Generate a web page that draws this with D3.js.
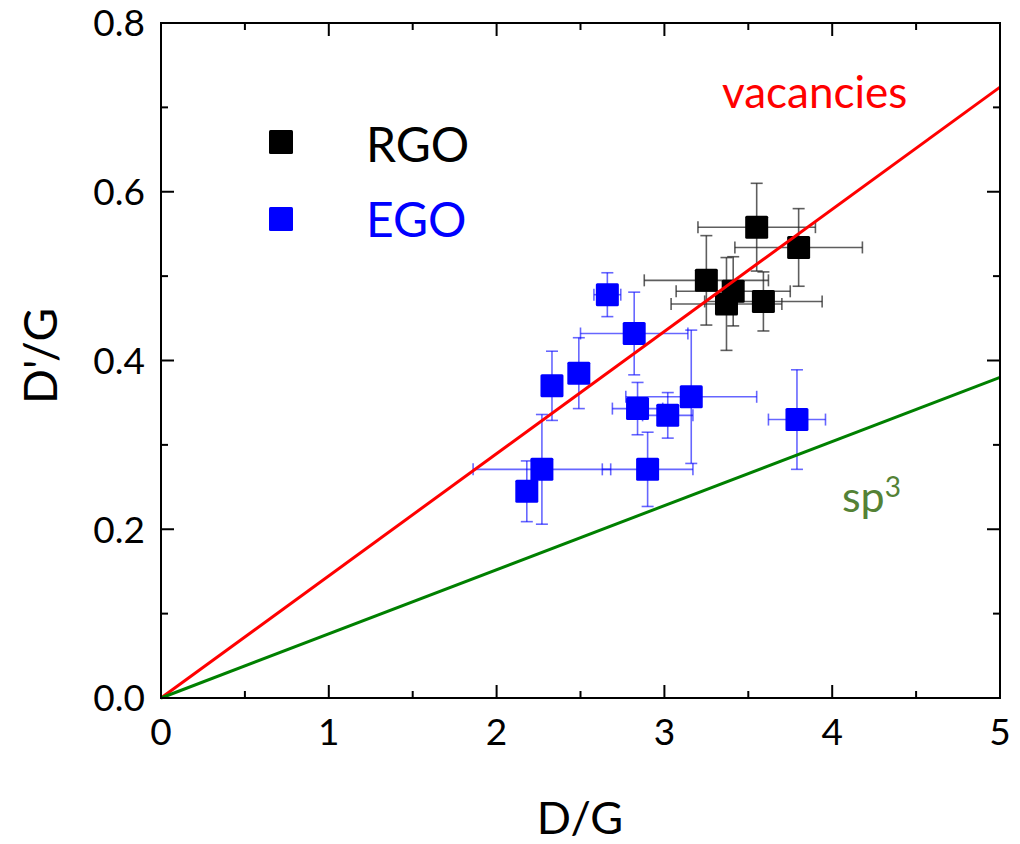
<!DOCTYPE html>
<html>
<head>
<meta charset="utf-8">
<script src="https://cdn.jsdelivr.net/npm/d3@7"></script>
<style>
  body { margin: 0; background: #fff; }
  svg { display: block; }
  text { font-family: Lato, "Open Sans", sans-serif; }
</style>
</head>
<body>
<svg id="chart" width="1020" height="844"></svg>
<script>
// ---- data ----
const xTicks = [0, 1, 2, 3, 4, 5];
const yTicks = [0.0, 0.2, 0.4, 0.6, 0.8];
const xMinor = [0.5, 1.5, 2.5, 3.5, 4.5];
const yMinor = [0.1, 0.3, 0.5, 0.7];

const rgoX    = [3.55, 3.80, 3.25, 3.41, 3.37, 3.59];
const rgoY    = [0.558, 0.534, 0.495, 0.482, 0.467, 0.470];
const rgoXErr = [0.35, 0.38, 0.37, 0.34, 0.33, 0.35];
const rgoYErr = [0.052, 0.046, 0.053, 0.041, 0.055, 0.035];

const egoX    = [2.66, 2.82, 2.33, 2.49, 2.84, 3.02, 3.16, 2.27, 2.18, 2.90, 3.79];
const egoY    = [0.478, 0.432, 0.370, 0.385, 0.343, 0.335, 0.357, 0.271, 0.245, 0.271, 0.330];
const egoXErr = [0.08, 0.32, 0.03, 0.03, 0.15, 0.15, 0.39, 0.41, 0.03, 0.27, 0.17];
const egoYErr = [0.026, 0.049, 0.041, 0.042, 0.031, 0.027, 0.079, 0.065, 0.036, 0.044, 0.059];

// reference lines: D'/G = slope * D/G
const vacancyLine = [[0, 0], [5, 0.724]];
const sp3Line     = [[0, 0], [5, 0.380]];

// ---- layout ----
const svg = d3.select("#chart");
const L = 161, R = 1000, T = 23, B = 698;
const x = d3.scaleLinear().domain([0, 5]).range([L, R]);
const y = d3.scaleLinear().domain([0, 0.8]).range([B, T]);

const majorLen = 13, minorLen = 7;

// error bars + points
function drawSeries(xs, ys, xe, ye, fill, errColor) {
  const g = svg.append("g");
  const data = xs.map((v, i) => ({x: v, y: ys[i], xe: xe[i], ye: ye[i]}));
  const cap = 6;
  data.forEach(d => {
    const eg = g.append("g").attr("stroke", errColor).attr("stroke-width", 1.6).attr("fill", "none");
    eg.append("line").attr("x1", x(d.x - d.xe)).attr("x2", x(d.x + d.xe)).attr("y1", y(d.y)).attr("y2", y(d.y));
    eg.append("line").attr("x1", x(d.x - d.xe)).attr("x2", x(d.x - d.xe)).attr("y1", y(d.y) - cap).attr("y2", y(d.y) + cap);
    eg.append("line").attr("x1", x(d.x + d.xe)).attr("x2", x(d.x + d.xe)).attr("y1", y(d.y) - cap).attr("y2", y(d.y) + cap);
    eg.append("line").attr("x1", x(d.x)).attr("x2", x(d.x)).attr("y1", y(d.y - d.ye)).attr("y2", y(d.y + d.ye));
    eg.append("line").attr("x1", x(d.x) - cap).attr("x2", x(d.x) + cap).attr("y1", y(d.y - d.ye)).attr("y2", y(d.y - d.ye));
    eg.append("line").attr("x1", x(d.x) - cap).attr("x2", x(d.x) + cap).attr("y1", y(d.y + d.ye)).attr("y2", y(d.y + d.ye));
  });
  const s = 23;
  g.selectAll("rect.pt").data(data).enter().append("rect")
    .attr("class", "pt")
    .attr("x", d => x(d.x) - s / 2).attr("y", d => y(d.y) - s / 2)
    .attr("width", s).attr("height", s).attr("rx", 1.5)
    .attr("fill", fill);
}

drawSeries(rgoX, rgoY, rgoXErr, rgoYErr, "#000", "rgba(40,40,40,0.75)");
drawSeries(egoX, egoY, egoXErr, egoYErr, "#0000ff", "rgba(0,0,255,0.6)");

// reference lines (on top)
const line = d3.line().x(d => x(d[0])).y(d => y(d[1]));
svg.append("path").datum(vacancyLine).attr("d", line).attr("stroke", "#ff0000").attr("stroke-width", 3).attr("fill", "none");
svg.append("path").datum(sp3Line).attr("d", line).attr("stroke", "#008000").attr("stroke-width", 3).attr("fill", "none");

// axes frame
const axG = svg.append("g").attr("stroke", "#000").attr("stroke-width", 2).attr("fill", "none");
axG.append("rect").attr("x", L).attr("y", T).attr("width", R - L).attr("height", B - T);

// ticks (inward, all four sides)
const tickG = svg.append("g").attr("stroke", "#000").attr("stroke-width", 2);
function xt(vals, len) {
  vals.forEach(v => {
    tickG.append("line").attr("x1", x(v)).attr("x2", x(v)).attr("y1", B).attr("y2", B - len);
    tickG.append("line").attr("x1", x(v)).attr("x2", x(v)).attr("y1", T).attr("y2", T + len);
  });
}
function yt(vals, len) {
  vals.forEach(v => {
    tickG.append("line").attr("x1", L).attr("x2", L + len).attr("y1", y(v)).attr("y2", y(v));
    tickG.append("line").attr("x1", R).attr("x2", R - len).attr("y1", y(v)).attr("y2", y(v));
  });
}
xt(xTicks.filter(v => v > 0 && v < 5), majorLen);
xt(xMinor, minorLen);
yt(yTicks.filter(v => v > 0 && v < 0.8), majorLen);
yt(yMinor, minorLen);

// tick labels
svg.append("g").selectAll("text").data(xTicks).enter().append("text")
  .attr("x", d => x(d)).attr("y", 745)
  .attr("text-anchor", "middle").attr("font-size", 37).attr("fill", "#000")
  .text(d => d3.format("d")(d));
svg.append("g").selectAll("text").data(yTicks).enter().append("text")
  .attr("x", 145).attr("y", d => y(d)).attr("dy", "0.36em")
  .attr("text-anchor", "end").attr("font-size", 37).attr("fill", "#000")
  .text(d => d3.format(".1f")(d));

// axis titles
svg.append("text").attr("x", 580).attr("y", 834).attr("text-anchor", "middle")
  .attr("font-size", 45).attr("fill", "#000").text("D/G");
svg.append("text").attr("transform", "translate(57,356) rotate(-90)").attr("text-anchor", "middle")
  .attr("font-size", 46).attr("fill", "#000").text("D'/G");

// legend
svg.append("rect").attr("x", 269).attr("y", 130).attr("width", 24).attr("height", 24).attr("rx", 1.5).attr("fill", "#000");
svg.append("text").attr("x", 366).attr("y", 162).attr("font-size", 48).attr("fill", "#000").text("RGO");
svg.append("rect").attr("x", 269).attr("y", 207).attr("width", 24).attr("height", 24).attr("rx", 1.5).attr("fill", "#0000ff");
svg.append("text").attr("x", 366).attr("y", 237).attr("font-size", 48).attr("fill", "#0000ff").text("EGO");

// line annotations
svg.append("text").attr("x", 722).attr("y", 108).attr("font-family", "'Liberation Sans', Arial, sans-serif")
  .attr("font-size", 44).attr("fill", "#ff0000").text("vacancies");
const sp = svg.append("text").attr("x", 842).attr("y", 512).attr("font-family", "'Liberation Sans', Arial, sans-serif")
  .attr("font-size", 43).attr("fill", "#548235");
sp.append("tspan").text("sp");
sp.append("tspan").attr("dy", -15).attr("font-size", 28).text("3");
</script>
</body>
</html>
